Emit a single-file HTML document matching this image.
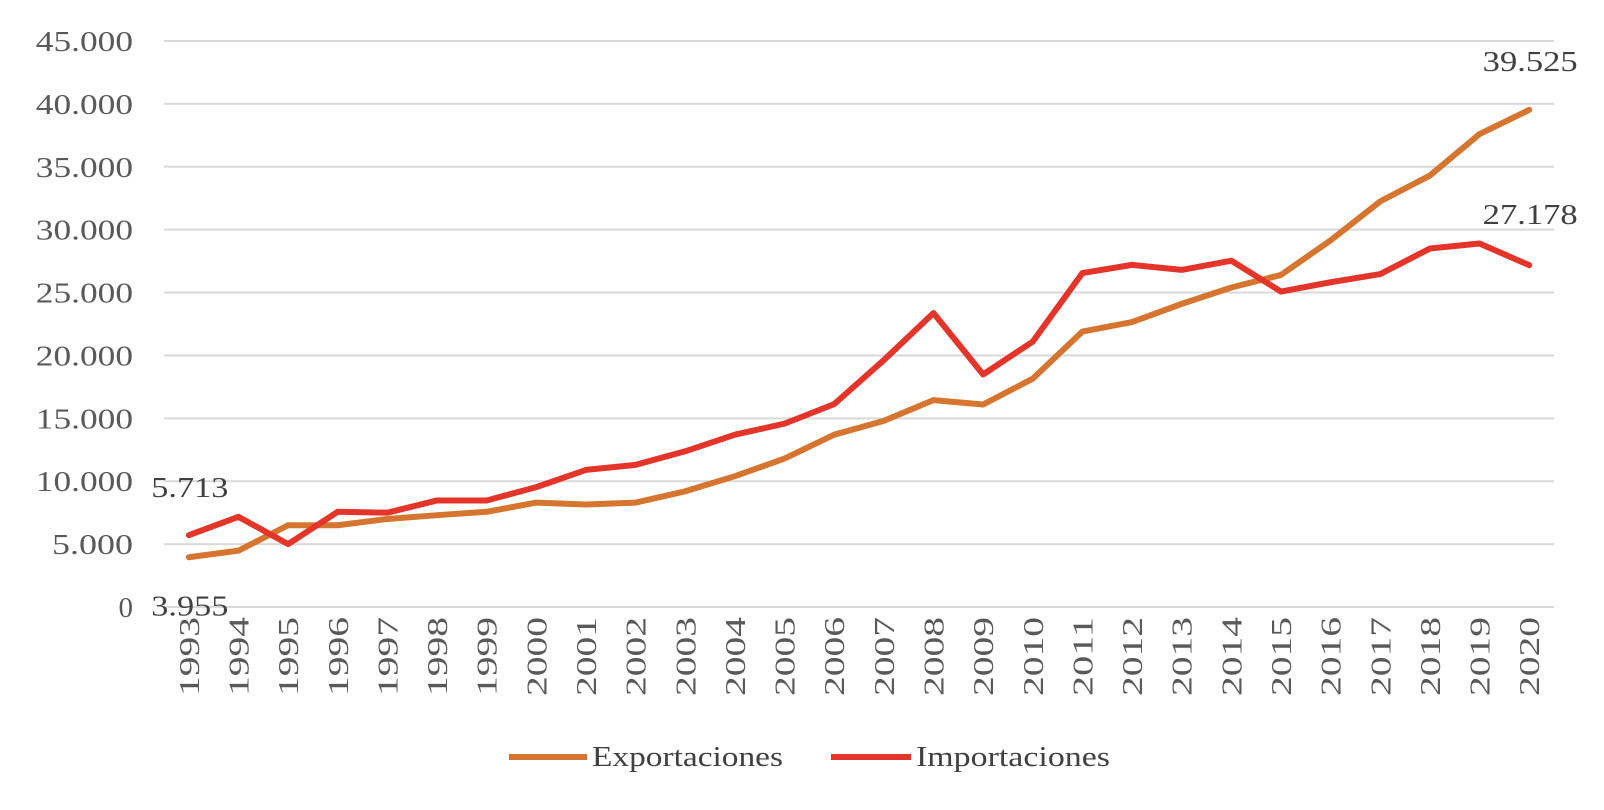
<!DOCTYPE html>
<html><head><meta charset="utf-8"><style>
body{margin:0;background:#fff;}
svg{display:block;font-family:"Liberation Serif",serif;}
</style></head><body>
<svg id="chart" width="1604" height="810"></svg>
<script>
const years=[1993,1994,1995,1996,1997,1998,1999,2000,2001,2002,2003,2004,2005,2006,2007,2008,2009,2010,2011,2012,2013,2014,2015,2016,2017,2018,2019,2020];
const exportsVals=[3955,4480,6500,6500,7000,7300,7570,8300,8150,8300,9200,10400,11800,13700,14800,16450,16100,18150,21900,22650,24100,25400,26400,29150,32250,34300,37600,39525];
const importsVals=[5713,7170,5000,7570,7500,8470,8470,9530,10900,11300,12380,13700,14580,16130,19630,23370,18490,21100,26550,27200,26800,27530,25080,25820,26470,28500,28900,27178];
const yTicks=[0,5000,10000,15000,20000,25000,30000,35000,40000,45000];
const yTickLabels=["0","5.000","10.000","15.000","20.000","25.000","30.000","35.000","40.000","45.000"];

const NS="http://www.w3.org/2000/svg";
const svg=document.getElementById('chart');
const x0=164,x1=1554,yBase=607,yTop=41,yMax=45000;
const band=(x1-x0)/years.length;
const X=i=>x0+band*(i+0.5);
const Y=v=>yBase-(v/yMax)*(yBase-yTop);
function mk(t,a){const e=document.createElementNS(NS,t);for(const k in a)e.setAttribute(k,a[k]);svg.appendChild(e);return e;}
const fmt=v=>{const s=String(v);return s.length>3?s.slice(0,-3)+"."+s.slice(-3):s;};

yTicks.forEach((v,i)=>{
  const g=mk('line',{x1:x0,x2:x1,y1:Y(v),y2:Y(v),stroke:'#d9d9d9','stroke-width':2});
  
  
  const lab=yTickLabels[i];
  const attrs={x:133,y:Y(v)+10,'text-anchor':'end','font-size':29,fill:'#595959'};
  if(lab.length>1){attrs.textLength=lab.length*16.2;attrs.lengthAdjust='spacingAndGlyphs';}
  const t=mk('text',attrs);
  t.textContent=lab;
  
  
});
years.forEach((yr,i)=>{
  const t=mk('text',{transform:`translate(${X(i)+10},${617}) rotate(-90)`,'text-anchor':'end','font-size':29,fill:'#595959',textLength:79,lengthAdjust:'spacingAndGlyphs'});
  t.textContent=yr;
  
  
});
function line(vals,color,name){
  const p=mk('polyline',{points:vals.map((v,i)=>X(i)+','+Y(v)).join(' '),fill:'none',stroke:color,'stroke-width':6,'stroke-linejoin':'round','stroke-linecap':'round'});
  
  
}
line(exportsVals,'#d5752f','exportaciones-line');
line(importsVals,'#e4352a','importaciones-line');
function lbl(x,y,txt,name,anchor,len){
  const a={x:x,y:y,'text-anchor':anchor||'middle','font-size':29,fill:'#404040'};
  if(len){a.textLength=len;a.lengthAdjust='spacingAndGlyphs';}
  const t=mk('text',a);
  t.textContent=txt;
  
  
}
lbl(X(0)+1,Y(importsVals[0])-38,fmt(importsVals[0]),'label-imports-1993','middle',77);
lbl(X(0)+1,Y(exportsVals[0])+58,fmt(exportsVals[0]),'label-exports-1993','middle',77);
lbl(X(27)+1,Y(exportsVals[27])-39,fmt(exportsVals[27]),'label-exports-2020','middle',95);
lbl(X(27)+1,Y(importsVals[27])-41,fmt(importsVals[27]),'label-imports-2020','middle',95);

const l1=mk('line',{x1:509,x2:587,y1:757,y2:757,stroke:'#d5752f','stroke-width':6});


lbl(592,766,'Exportaciones','legend-exportaciones','start',191);
const l2=mk('line',{x1:831,x2:911,y1:757,y2:757,stroke:'#e4352a','stroke-width':6});


lbl(916,766,'Importaciones','legend-importaciones','start',194);
</script>
</body></html>
